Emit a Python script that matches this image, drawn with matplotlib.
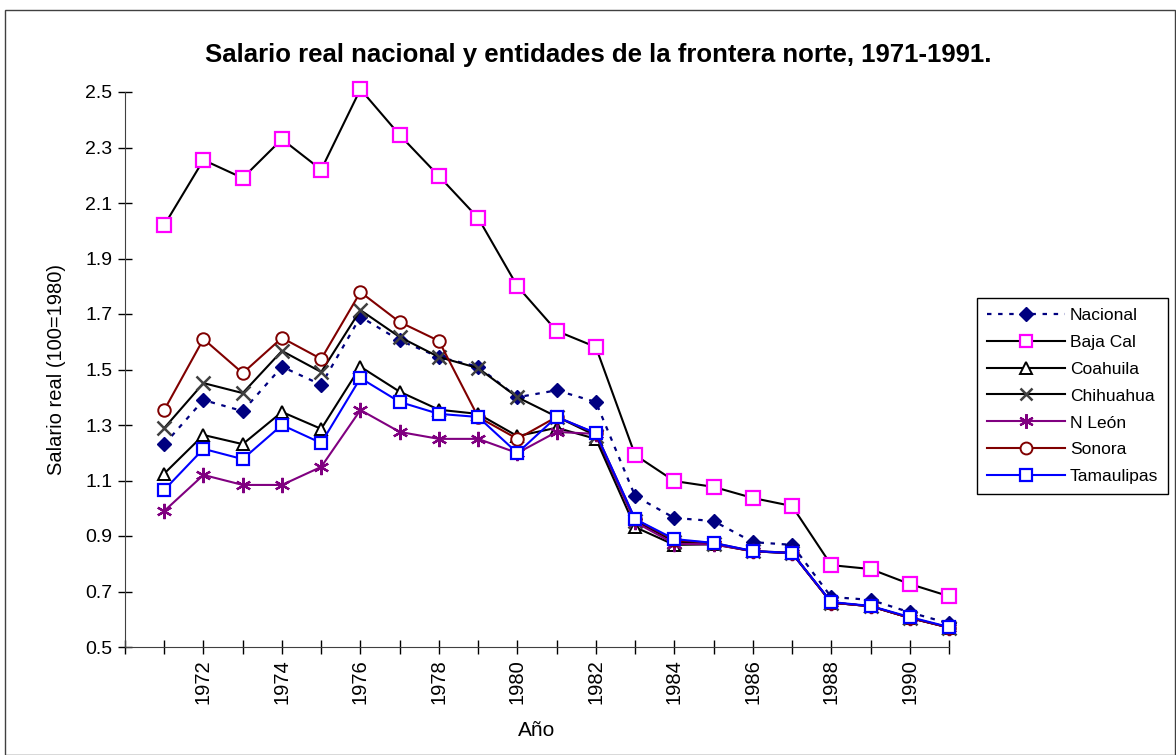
import matplotlib
matplotlib.use("Agg")
import matplotlib.pyplot as plt
from matplotlib.patches import Rectangle

plt.rcParams['font.family'] = ['Liberation Sans', 'DejaVu Sans']

years = list(range(1971, 1992))

nacional = [1.23, 1.39, 1.35, 1.51, 1.445, 1.69, 1.605, 1.545, 1.51, 1.40, 1.425, 1.383,
            1.044, 0.965, 0.954, 0.878, 0.868, 0.68, 0.67, 0.625, 0.585]
baja_cal = [2.02, 2.255, 2.19, 2.33, 2.22, 2.51, 2.345, 2.197, 2.046, 1.80, 1.639, 1.581,
            1.192, 1.098, 1.077, 1.037, 1.008, 0.795, 0.781, 0.727, 0.683]
coahuila = [1.125, 1.264, 1.231, 1.347, 1.286, 1.51, 1.42, 1.355, 1.34, 1.26, 1.29, 1.25,
            0.932, 0.868, 0.87, 0.845, 0.838, 0.66, 0.647, 0.605, 0.57]
chihuahua = [1.289, 1.451, 1.415, 1.567, 1.491, 1.714, 1.617, 1.545, 1.505, 1.40, 1.33, 1.262,
             0.955, 0.88, 0.872, 0.845, 0.838, 0.66, 0.647, 0.605, 0.57]
n_leon = [0.99, 1.12, 1.084, 1.084, 1.149, 1.354, 1.275, 1.25, 1.25, 1.199, 1.275, 1.268,
          0.95, 0.872, 0.87, 0.845, 0.838, 0.66, 0.647, 0.605, 0.57]
sonora = [1.354, 1.61, 1.487, 1.614, 1.538, 1.779, 1.671, 1.603, 1.329, 1.25, 1.329, 1.27,
          0.96, 0.885, 0.875, 0.845, 0.84, 0.66, 0.647, 0.605, 0.57]
tamaulipas = [1.066, 1.214, 1.177, 1.30, 1.235, 1.469, 1.383, 1.34, 1.329, 1.199, 1.329, 1.271,
              0.961, 0.889, 0.875, 0.846, 0.839, 0.662, 0.648, 0.608, 0.572]

fig = plt.figure(figsize=(11.76, 7.55), dpi=100)
ax = fig.add_axes([125 / 1176, 1 - 647 / 755, (949 - 125) / 1176, (647 - 92) / 755])

ax.plot(years, nacional, color='#000080', linestyle=(0, (2, 3)), linewidth=1.6,
        marker='D', markersize=7, markerfacecolor='#000080', markeredgecolor='#000080',
        label='Nacional', clip_on=False)
ax.plot(years, baja_cal, color='black', linewidth=1.5, marker='s', markersize=9.5,
        markerfacecolor='white', markeredgecolor='#FF00FF', markeredgewidth=1.6,
        label='Baja Cal', clip_on=False)
ax.plot(years, coahuila, color='black', linewidth=1.5, marker='^', markersize=9,
        markerfacecolor='white', markeredgecolor='black', markeredgewidth=1.4,
        label='Coahuila', clip_on=False)
ax.plot(years, chihuahua, color='black', linewidth=1.5, marker='x', markersize=9.5,
        markeredgecolor='#404040', markeredgewidth=1.8,
        label='Chihuahua', clip_on=False)
ax.plot(years, n_leon, color='#800080', linewidth=1.5, marker=(6, 2, 0), markersize=11,
        markeredgecolor='#800080', markeredgewidth=1.6,
        label='N León', clip_on=False)
ax.plot(years, sonora, color='#800000', linewidth=1.5, marker='o', markersize=9,
        markerfacecolor='white', markeredgecolor='#800000', markeredgewidth=1.4,
        label='Sonora', clip_on=False)
ax.plot(years, tamaulipas, color='#0000FF', linewidth=1.5, marker='s', markersize=8.5,
        markerfacecolor='white', markeredgecolor='#0000FF', markeredgewidth=1.6,
        label='Tamaulipas', clip_on=False)

ax.set_xlim(1970, 1991)
ax.set_ylim(0.5, 2.5)
yt = [0.5 + 0.2 * i for i in range(11)]
ax.set_yticks(yt)
ax.set_yticklabels([f"{v:.1f}" for v in yt], fontsize=14)
xt = list(range(1970, 1992))
ax.set_xticks(xt)
ax.set_xticklabels([str(y) if (y % 2 == 0 and 1972 <= y <= 1990) else "" for y in xt],
                   rotation=90, fontsize=14.5)
ax.tick_params(direction='inout', length=10, width=1, pad=4)
ax.spines['top'].set_visible(False)
ax.spines['right'].set_visible(False)
ax.spines['left'].set_color('#404040')
ax.spines['bottom'].set_color('#404040')

ax.set_ylabel('Salario real (100=1980)', fontsize=14.5, labelpad=14)
ax.set_xlabel('Año', fontsize=15, labelpad=12)
fig.text(598 / 1176, 1 - 55 / 755, 'Salario real nacional y entidades de la frontera norte, 1971-1991.',
         fontsize=18.5, fontweight='bold', ha='center', va='center')

leg = fig.legend(loc='upper left', bbox_to_anchor=(977 / 1176, 1 - 298 / 755), fontsize=12.5,
                 frameon=True, fancybox=False, edgecolor='black', framealpha=1,
                 handlelength=4.5, labelspacing=0.68, borderpad=0.55, handletextpad=0.3,
                 borderaxespad=0, markerscale=0.95)
leg.get_frame().set_linewidth(1.0)

fig.add_artist(Rectangle((5 / 1176, 0), 1 - 5 / 1176 - 0.001, 1 - 10 / 755, transform=fig.transFigure,
                         fill=False, edgecolor='#404040', linewidth=1.0))

fig.savefig('out.png', dpi=100)
